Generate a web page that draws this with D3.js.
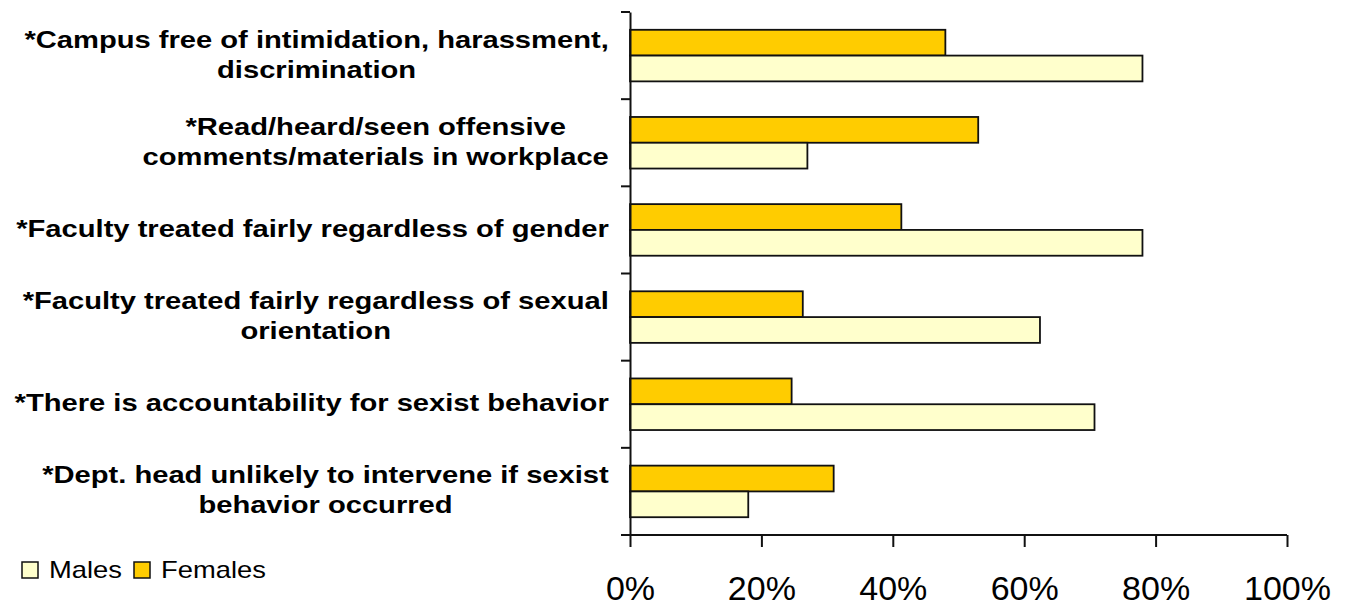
<!DOCTYPE html>
<html>
<head>
<meta charset="utf-8">
<script src="https://cdn.jsdelivr.net/npm/d3@7"></script>
<style>
  body { margin: 0; background: #fff; }
  svg { display: block; }
</style>
</head>
<body>
<div id="chart"></div>
<script>
const width = 1349
const height = 607

// data
const categories = [
    ["*Campus free of intimidation, harassment,", "discrimination"],
    ["*Read/heard/seen offensive", "comments/materials in workplace"],
    ["*Faculty treated fairly regardless of gender"],
    ["*Faculty treated fairly regardless of sexual", "orientation"],
    ["*There is accountability for sexist behavior"],
    ["*Dept. head unlikely to intervene if sexist", "behavior occurred"]
]
const females = [48, 53, 41.3, 26.3, 24.6, 31]
const males = [78, 27, 78, 62.4, 70.7, 18]
const series = ["Females", "Males"]
const colors = { Females: "#ffcc00", Males: "#ffffcc" }
const ticks = [0, 20, 40, 60, 80, 100]

const svg = d3.select("#chart")
    .append("svg")
    .attr("width", width)
    .attr("height", height)

const x = d3.scaleLinear().domain([0, 100]).range([630, 1287])
const y0 = d3.scaleBand().domain(d3.range(categories.length)).range([12, 535])
const y1 = d3.scaleBand().domain(series).range([0, y0.bandwidth()]).paddingOuter(0.69)
const stretch = 1.19 // the original's text is stretched sideways

// bars
const groups = svg.append("g")
    .selectAll("g")
    .data(categories.map((c, i) => ({ i, Females: females[i], Males: males[i] })))
    .enter()
    .append("g")
    .attr("transform", d => `translate(0,${y0(d.i)})`)

groups.selectAll("rect")
    .data(d => series.map(s => ({ s, v: d[s] })))
    .enter()
    .append("rect")
    .attr("x", x(0))
    .attr("y", d => y1(d.s))
    .attr("width", d => x(d.v) - x(0))
    .attr("height", y1.bandwidth())
    .attr("fill", d => colors[d.s])
    .attr("stroke", "#111")
    .attr("stroke-width", 1.8)

// y axis: line + ticks on band edges
svg.append("g")
    .attr("transform", `translate(${x(0)},0)`)
    .call(d3.axisLeft(y0).tickValues([]).tickSizeOuter(0))
    .call(g => g.select(".domain").attr("stroke", "#111").attr("stroke-width", 2))
svg.append("g")
    .selectAll("line")
    .data(d3.range(categories.length + 1))
    .enter()
    .append("line")
    .attr("x1", x(0) - 9)
    .attr("x2", x(0))
    .attr("y1", i => i < categories.length ? y0(i) : 535)
    .attr("y2", i => i < categories.length ? y0(i) : 535)
    .attr("stroke", "#111")
    .attr("stroke-width", 2)

// x axis
const xAxis = svg.append("g")
    .attr("transform", "translate(0,535)")
    .call(d3.axisBottom(x).tickValues(ticks).tickSize(12).tickSizeOuter(0).tickFormat(d => d + "%"))
xAxis.select(".domain").attr("d", `M${x(0) - 9},0H${x(100)}`).attr("stroke", "#111").attr("stroke-width", 2)
xAxis.selectAll(".tick line").attr("stroke", "#111").attr("stroke-width", 2)
xAxis.selectAll(".tick text")
    .attr("y", 65)
    .attr("dy", 0)
    .attr("font-family", "Liberation Sans, Arial, sans-serif")
    .attr("font-size", 34)
    .attr("fill", "#000")

// category labels, centred block, right edge at 609
const labels = svg.append("g")
    .attr("font-family", "Liberation Sans, Arial, sans-serif")
    .attr("font-weight", "bold")
    .attr("font-size", 24.5)
    .attr("fill", "#000")

categories.forEach((lines, i) => {
    const cy = y0(i) + y0.bandwidth() / 2
    const t = labels.append("g")
    const texts = lines.map((ln, k) => t.append("text")
        .attr("y", cy + 7 + (k - (lines.length - 1) / 2) * 30)
        .attr("text-anchor", "middle")
        .text(ln))
    const maxW = d3.max(texts, tx => tx.node().getComputedTextLength()) * stretch
    const cx = 609 - maxW / 2
    texts.forEach(tx => tx.attr("transform", `translate(${cx},0) scale(${stretch},1)`))
})

// legend
const legend = svg.append("g")
    .attr("font-family", "Liberation Sans, Arial, sans-serif")
    .attr("font-size", 23)
const legendItems = [{ s: "Males", x: 22 }, { s: "Females", x: 134 }]
legendItems.forEach(d => {
    legend.append("rect")
        .attr("x", d.x).attr("y", 562)
        .attr("width", 16).attr("height", 16)
        .attr("fill", colors[d.s])
        .attr("stroke", "#111")
        .attr("stroke-width", 1.5)
    legend.append("text")
        .attr("transform", `translate(${d.x + 27},578) scale(${stretch},1)`)
        .text(d.s)
})
</script>
</body>
</html>
